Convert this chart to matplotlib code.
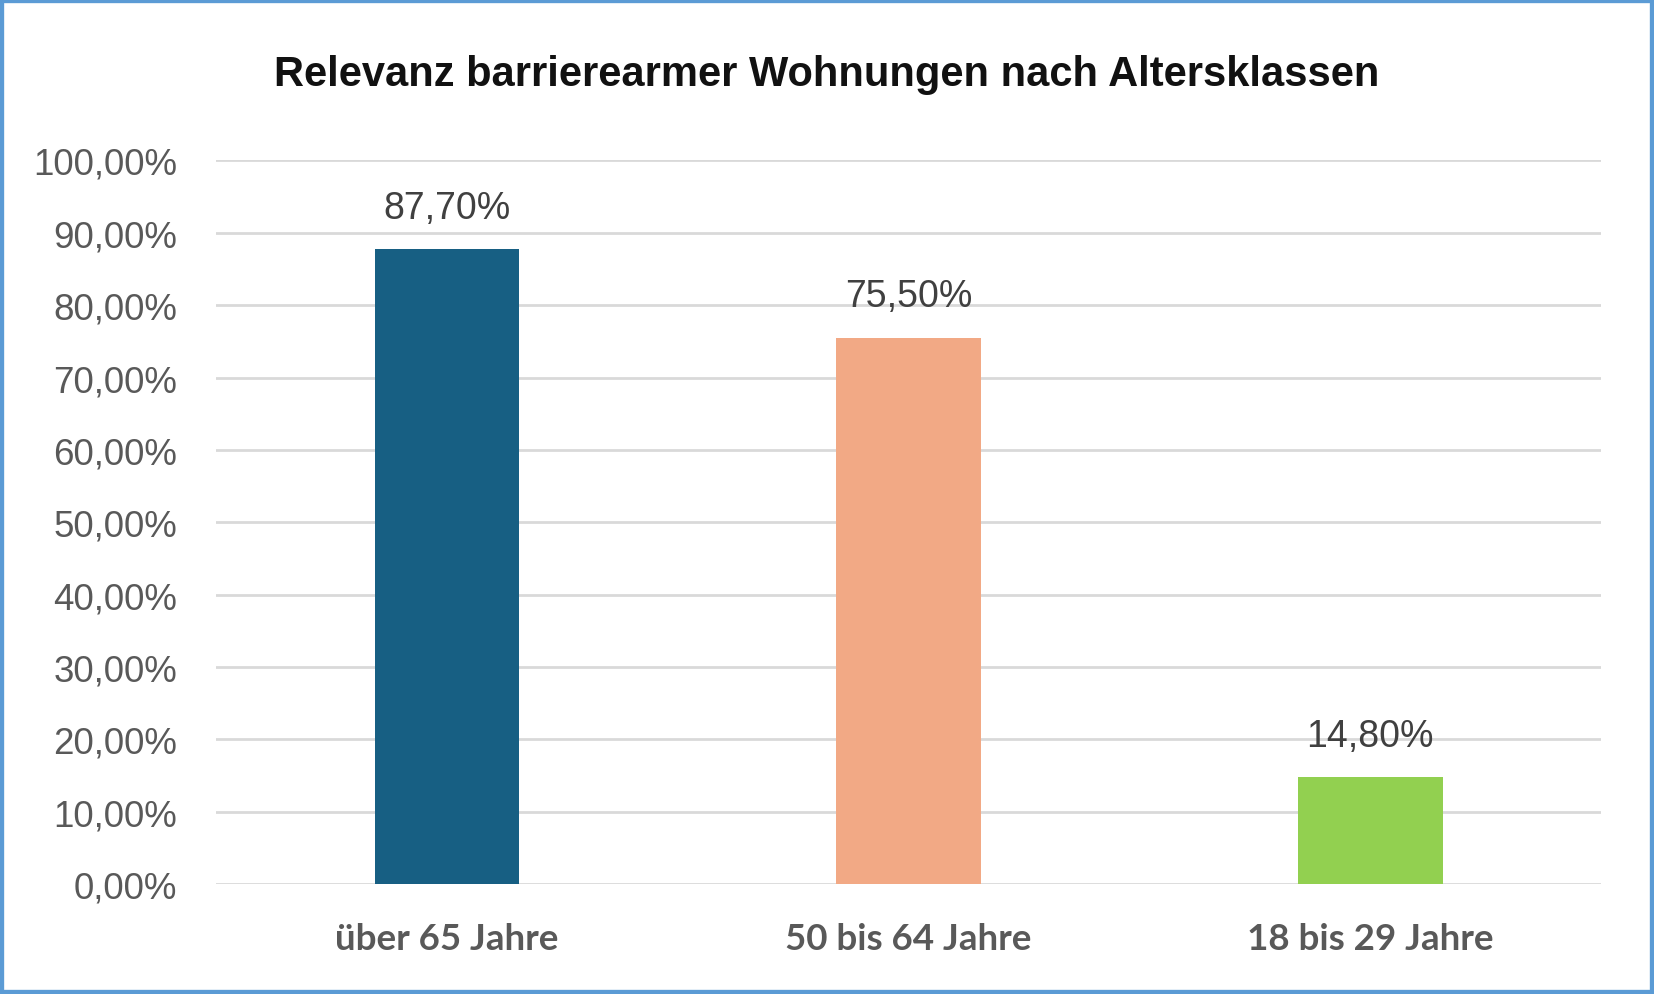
import matplotlib.pyplot as plt
from matplotlib.patches import Rectangle

categories = ["über 65 Jahre", "50 bis 64 Jahre", "18 bis 29 Jahre"]
values = [87.70, 75.50, 14.80]
colors = ["#175F83", "#F2A985", "#92D050"]
yticks = [0, 10, 20, 30, 40, 50, 60, 70, 80, 90, 100]


def de_pct(v):
    return f"{v:.2f}".replace(".", ",") + "%"


fig = plt.figure(figsize=(16.54, 9.95), dpi=100)
ax = fig.add_axes([0.1307, 0.1103, 0.968 - 0.1307, 0.8378 - 0.1103])

xs = list(range(len(categories)))
ax.bar(xs, values, width=0.313, color=colors, zorder=3)

for x, v in zip(xs, values):
    ax.annotate(de_pct(v), (x, v), xytext=(0, 17), textcoords="offset points",
                ha="center", va="bottom", fontsize=27, color="#404040",
                family=["Liberation Sans", "DejaVu Sans"])

ax.set_xlim(-0.5, 2.5)
ax.set_ylim(0, 100)
ax.set_yticks(yticks)
ax.set_yticklabels([de_pct(t) for t in yticks], fontsize=26.5, color="#595959",
                   family=["Liberation Sans", "DejaVu Sans"])
ax.set_xticks(xs)
ax.set_xticklabels(categories, fontsize=26.5, fontweight="bold", color="#595959",
                   family=["Lato", "DejaVu Sans"])
ax.tick_params(axis="y", length=0, pad=28)
ax.tick_params(axis="x", length=0, pad=27)
ax.grid(axis="y", color="#D9D9D9", linewidth=2, zorder=0)
for s in ax.spines.values():
    s.set_visible(False)

fig.text(0.5, 0.925, "Relevanz barrierearmer Wohnungen nach Altersklassen",
         ha="center", va="center", fontsize=30, fontweight="bold", color="#111111",
         family=["Liberation Sans Narrow", "Liberation Sans", "DejaVu Sans"])

fig.patches.append(Rectangle((0, 0), 1, 1, transform=fig.transFigure, fill=False,
                             edgecolor="#5B9BD5", linewidth=6))

fig.savefig("out.png", dpi=100)
